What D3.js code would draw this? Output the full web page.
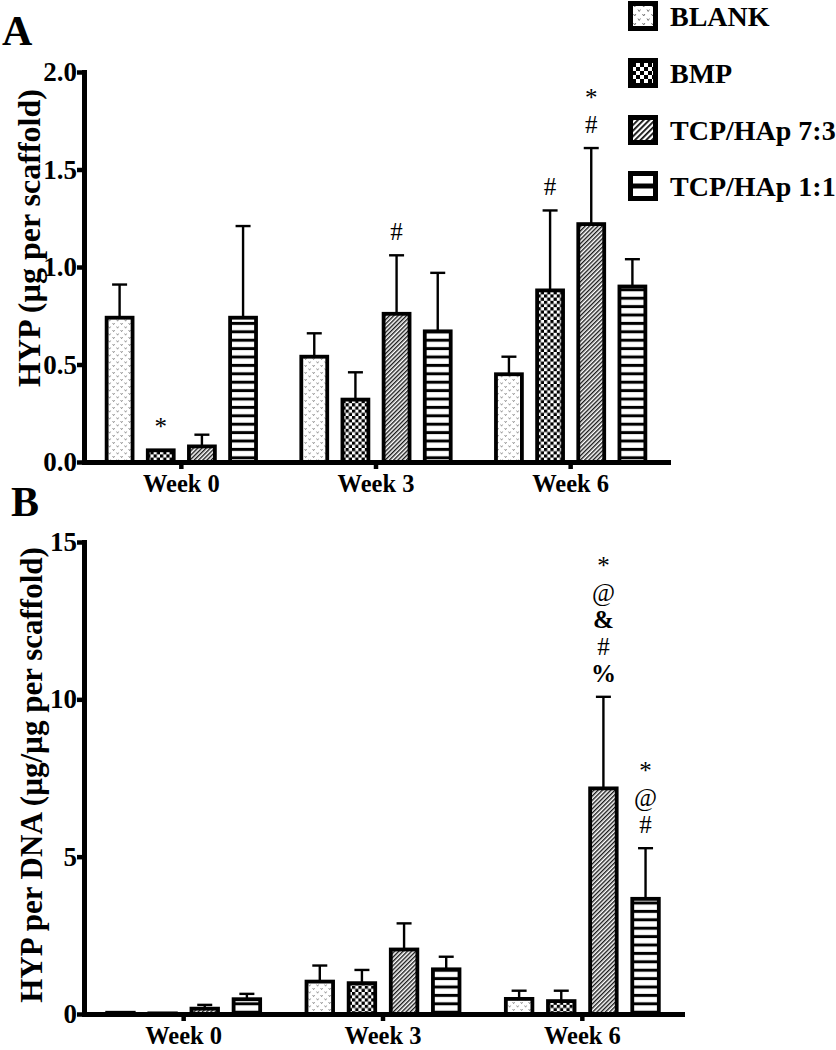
<!DOCTYPE html>
<html><head><meta charset="utf-8">
<script src="https://cdn.jsdelivr.net/npm/d3@7"></script>
<style>
body{margin:0;background:#fff}
svg{display:block}
text{font-family:"Liberation Serif","Times New Roman",Times,serif;fill:#000}
</style>
</head><body>
<svg id="c" width="836" height="1050"></svg>
<script>
// ---------- data ----------
const weeks = ["Week 0", "Week 3", "Week 6"];
const series = ["BLANK", "BMP", "TCP/HAp 7:3", "TCP/HAp 1:1"];
// Panel A: HYP (µg per scaffold), [week][series]
const hypMean = [[0.74, 0.06, 0.08, 0.74], [0.54, 0.32, 0.76, 0.67], [0.45, 0.88, 1.22, 0.90]];
const hypErr  = [[0.17, 0.00, 0.06, 0.47], [0.12, 0.14, 0.30, 0.30], [0.09, 0.41, 0.39, 0.14]];
const hypTicks = [0, 0.5, 1.0, 1.5, 2.0];
// Panel B: HYP per DNA (µg/µg per scaffold)
const dnaMean = [[0.04, 0.02, 0.17, 0.47], [1.03, 0.98, 2.05, 1.42], [0.48, 0.41, 7.17, 3.66]];
const dnaErr  = [[0.00, 0.00, 0.12, 0.17], [0.51, 0.42, 0.83, 0.40], [0.26, 0.33, 2.91, 1.61]];
const dnaTicks = [0, 5, 10, 15];
// significance marks (listed bottom to top)
const hypMarks = [{w: 0, s: 1, m: ["*"]}, {w: 1, s: 2, m: ["#"]}, {w: 2, s: 1, m: ["#"]}, {w: 2, s: 2, m: ["#", "*"]}];
const dnaMarks = [{w: 2, s: 2, m: ["%", "#", "&", "@", "*"]}, {w: 2, s: 3, m: ["#", "@", "*"]}];
const boldMarks = ["&", "%"];

// ---------- setup ----------
const svg = d3.select("#c");
const defs = svg.append("defs");

function pat(id, w, h, transform) {
  const p = defs.append("pattern").attr("id", id).attr("patternUnits", "userSpaceOnUse")
    .attr("width", w).attr("height", h);
  if (transform) p.attr("patternTransform", transform);
  p.append("rect").attr("width", w).attr("height", h).attr("fill", "#fff");
  return p;
}
// BLANK: light grey stipple
let p = pat("p0", 8, 7);
p.append("path").attr("d", "M0.6,1 L1.6,2.7 L2.6,1 M4.6,4.5 L5.6,6.2 L6.6,4.5")
  .attr("fill", "none").attr("stroke", "#8c8c8c").attr("stroke-width", 0.9);
// BMP: checkerboard
p = pat("p1", 6.4, 6.4);
p.append("rect").attr("width", 3.2).attr("height", 3.2).attr("fill", "#000");
p.append("rect").attr("x", 3.2).attr("y", 3.2).attr("width", 3.2).attr("height", 3.2).attr("fill", "#000");
// TCP/HAp 7:3: diagonal hatch
p = pat("p2", 3, 3, "rotate(45)");
p.append("rect").attr("width", 1.4).attr("height", 3).attr("fill", "#1a1a1a");
// TCP/HAp 1:1: horizontal stripes
p = pat("p3", 10, 8.4);
p.append("rect").attr("y", 2.7).attr("width", 10).attr("height", 3).attr("fill", "#000");

// legend variants
p = pat("L0", 9, 9);
p.append("path").attr("d", "M1,1.5 L2.2,3.5 L3.4,1.5 M5.5,6 L6.7,8 L7.9,6")
  .attr("fill", "none").attr("stroke", "#777").attr("stroke-width", 1);
p = pat("L1", 8, 8);
p.append("rect").attr("width", 4).attr("height", 4).attr("fill", "#000");
p.append("rect").attr("x", 4).attr("y", 4).attr("width", 4).attr("height", 4).attr("fill", "#000");
p = pat("L2", 4, 4, "rotate(45)");
p.append("rect").attr("width", 1.8).attr("height", 4).attr("fill", "#111");
const l3 = defs.append("pattern").attr("id", "L3").attr("patternUnits", "objectBoundingBox")
  .attr("patternContentUnits", "objectBoundingBox").attr("width", 1).attr("height", 1);
l3.append("rect").attr("width", 1).attr("height", 1).attr("fill", "#fff");
l3.append("rect").attr("y", 0.4).attr("width", 1).attr("height", 0.2).attr("fill", "#000");

const barFill = ["url(#p0)", "url(#p1)", "url(#p2)", "url(#p3)"];
const legFill = ["url(#L0)", "url(#L1)", "url(#L2)", "url(#L3)"];

function panel(cfg) {
  const g = svg.append("g");
  const x0 = d3.scaleBand().domain(weeks).range([84, cfg.xEnd]);
  const x1 = d3.scaleBand().domain(d3.range(series.length)).range([0, x0.bandwidth()])
    .paddingInner(0.37).paddingOuter(0.55);
  const y = d3.scaleLinear().domain([0, d3.max(cfg.ticks)]).range([cfg.y0, cfg.yTop]);

  const rows = [];
  weeks.forEach((w, wi) => series.forEach((s, si) => rows.push({w, wi, si, v: cfg.mean[wi][si], e: cfg.err[wi][si]})));

  // error bars (upper)
  const eb = g.append("g").attr("stroke", "#000").attr("stroke-width", 2.4);
  rows.filter(d => d.e > 0).forEach(d => {
    const cx = x0(d.w) + x1(d.si) + x1.bandwidth() / 2;
    eb.append("line").attr("x1", cx).attr("x2", cx).attr("y1", y(d.v)).attr("y2", y(d.v + d.e));
    eb.append("line").attr("x1", cx - 7.5).attr("x2", cx + 7.5).attr("y1", y(d.v + d.e)).attr("y2", y(d.v + d.e));
  });

  // bars
  g.append("g").selectAll("rect").data(rows).join("rect")
    .attr("x", d => x0(d.w) + x1(d.si))
    .attr("y", d => y(d.v))
    .attr("width", x1.bandwidth())
    .attr("height", d => y(0) - y(d.v))
    .attr("fill", d => barFill[d.si])
    .attr("stroke", "#000").attr("stroke-width", 3.8);

  // marks
  cfg.marks.forEach(mk => {
    const cx = x0(weeks[mk.w]) + x1(mk.s) + x1.bandwidth() / 2;
    const top = y(cfg.mean[mk.w][mk.s] + cfg.err[mk.w][mk.s]);
    mk.m.forEach((t, i) => {
      g.append("text").attr("x", cx).attr("y", top - 15 - i * 27)
        .attr("text-anchor", "middle").attr("font-size", 25)
        .attr("font-weight", boldMarks.includes(t) ? "bold" : "normal").text(t);
    });
  });

  // y axis
  const ya = g.append("g").attr("transform", "translate(84,0)")
    .call(d3.axisLeft(y).tickValues(cfg.ticks).tickFormat(cfg.fmt).tickSize(7).tickSizeOuter(0).tickPadding(0));
  // x axis
  const xa = g.append("g").attr("transform", `translate(0,${cfg.y0})`)
    .call(d3.axisBottom(x0).tickSize(7).tickSizeOuter(0).tickPadding(6));
  [ya, xa].forEach(a => {
    a.attr("font-family", null).attr("font-size", null);
    a.select(".domain").attr("stroke", "#000").attr("stroke-width", 5).attr("stroke-linecap", "square");
    a.selectAll(".tick line").attr("stroke", "#000").attr("stroke-width", 4.5);
    a.selectAll(".tick text").attr("font-weight", "bold").attr("fill", "#000");
  });
  ya.selectAll(".tick text").attr("font-size", 27);
  xa.selectAll(".tick text").attr("font-size", 24.5);

  // y title
  g.append("text").attr("transform", `translate(${cfg.titleX},${cfg.titleY}) rotate(-90)`)
    .attr("text-anchor", "middle").attr("font-size", cfg.titleSize).attr("font-weight", "bold").text(cfg.title);
  // panel letter
  g.append("text").attr("x", cfg.letterX).attr("y", cfg.letterY)
    .attr("font-size", 42).attr("font-weight", "bold").text(cfg.letter);
}

panel({letter: "A", letterX: 2, letterY: 45, mean: hypMean, err: hypErr, ticks: hypTicks,
  fmt: d3.format(".1f"), y0: 462, yTop: 72, xEnd: 668, marks: hypMarks,
  title: "HYP (µg per scaffold)", titleSize: 32, titleX: 40, titleY: 238});
panel({letter: "B", letterX: 11, letterY: 516, mean: dnaMean, err: dnaErr, ticks: dnaTicks,
  fmt: d3.format("d"), y0: 1014, yTop: 542, xEnd: 682, marks: dnaMarks,
  title: "HYP per DNA (µg/µg per scaffold)", titleSize: 31, titleX: 42, titleY: 775});

// legend
const leg = svg.append("g").selectAll("g").data(series).join("g")
  .attr("transform", (d, i) => `translate(628,${[26, 83, 140, 196][i]})`);
leg.append("rect").attr("x", 2.5).attr("y", -22.5).attr("width", 25).attr("height", 25)
  .attr("fill", (d, i) => legFill[i]).attr("stroke", "#000").attr("stroke-width", 5);
leg.append("text").attr("x", 42).attr("y", 0).attr("font-size", 28).attr("font-weight", "bold").text(d => d);
</script>
</body></html>
